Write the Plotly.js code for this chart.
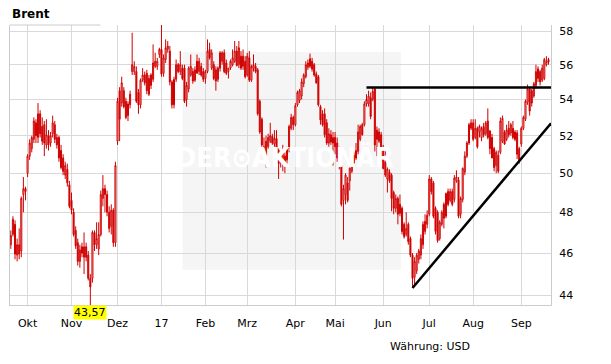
<!DOCTYPE html>
<html>
<head>
<meta charset="utf-8">
<script src="https://cdn.plot.ly/plotly-3.0.1.min.js"></script>
<style>
  html, body { margin: 0; padding: 0; background: #ffffff; }
  #chart { width: 611px; height: 364px; }
</style>
</head>
<body>
<div id="chart"></div>
<script>
// ---- Data (Brent, daily OHLC) ----
const firstDay = '2016-09-21';
const lastDay = '2017-09-20';
const holidays = ['2016-12-26', '2017-01-02', '2017-04-14'];
const monthLabels = ['Okt','Nov','Dez','17','Feb','Mrz','Apr','Mai','Jun','Jul','Aug','Sep'];
const yTicks = [44, 46, 48, 50, 52, 54, 56, 58];

const open = [
46.4,46.9,47.4,45.9,46.4,46.1,48.9,49.2,50.0,50.9,51.3,51.8,52.7,51.9,53.2,52.5,52.6,51.5,52.0,51.6,
52.1,52.6,51.9,51.9,51.2,50.8,49.9,50.2,49.4,48.6,48.0,47.1,46.5,45.6,46.3,45.8,46.3,45.9,44.8,44.8,
47.0,46.4,46.2,46.9,48.7,49.2,48.9,48.0,47.3,48.1,46.5,51.7,54.5,53.8,54.5,53.9,53.1,53.7,55.6,55.6,
55.6,54.4,53.7,55.1,55.4,55.5,55.2,54.8,55.15,55.9,55.9,56.6,56.9,55.5,56.3,56.9,56.8,55.0,53.7,55.15,
56.0,55.6,55.8,55.8,54.0,54.6,55.4,55.6,55.1,56.2,55.6,55.9,55.6,55.2,55.6,56.9,55.8,56.0,55.7,55.15,
55.8,56.2,56.7,56.1,55.6,55.8,56.0,56.2,56.8,56.0,56.5,55.9,56.2,55.4,56.4,55.1,55.8,55.9,55.7,53.9,
52.9,51.4,50.9,51.4,51.7,51.95,51.55,51.85,51.2,50.6,50.7,50.9,50.7,51.3,52.4,53.0,52.6,53.7,53.95,54.2,
54.9,55.3,55.85,55.9,56.2,56.0,55.45,55.3,53.6,53.2,53.2,52.7,51.6,52.05,51.6,51.9,51.6,51.2,50.4,48.6,
48.9,49.5,49.6,50.1,50.95,50.8,51.15,51.8,52.6,52.6,53.75,53.75,54.1,54.0,54.6,52.3,51.7,52.05,51.3,50.6,
49.7,50.05,49.9,49.0,48.2,48.7,48.4,48.2,47.4,46.9,47.4,46.7,45.9,44.85,45.15,45.7,45.9,46.4,47.05,47.4,
47.9,49.7,49.5,48.2,48.0,46.7,47.4,48.4,47.8,49.05,48.6,49.05,48.65,49.6,49.65,47.9,48.65,50.05,50.9,51.6,
52.4,52.7,51.9,52.4,52.2,51.9,52.5,52.1,52.8,52.25,51.9,51.3,50.4,50.95,51.1,51.7,52.2,51.8,52.4,52.15,
52.4,52.2,52.15,51.3,51.55,52.4,52.9,53.85,54.6,54.5,54.2,54.8,55.2,55.6,55.1,55.2,56.0,56.3
];
const high = [
47.1,47.8,47.6,46.7,47.2,48.8,49.8,49.3,51.0,51.8,52.0,53.0,52.9,53.8,53.4,53.0,52.8,52.9,52.3,52.2,
53.1,52.8,52.1,52.0,51.5,51.0,50.6,50.5,49.6,49.0,48.2,47.3,46.7,46.4,46.5,47.0,46.5,46.1,45.0,47.1,
47.1,47.5,47.5,49.1,49.9,49.4,49.1,48.3,48.4,48.2,50.6,54.1,54.7,55.3,54.7,54.1,53.9,54.5,57.9,56.2,
55.9,54.6,55.2,55.8,55.6,55.7,55.4,55.5,57.2,56.7,56.4,57.0,58.37,56.6,57.5,57.4,57.1,55.1,55.3,56.3,
56.1,56.8,56.0,56.0,55.0,55.9,56.6,55.8,55.9,56.6,56.4,56.1,55.8,55.7,57.5,57.3,56.9,56.2,55.9,55.9,
56.8,56.8,56.9,56.3,55.8,56.3,56.9,57.4,57.1,57.4,56.8,56.9,56.5,56.7,56.8,56.0,56.6,56.1,55.8,54.0,
53.0,51.9,52.0,52.1,52.7,52.1,52.3,52.3,51.3,51.0,51.5,51.1,51.4,52.6,53.2,53.1,53.8,54.5,54.6,55.2,
55.5,56.2,56.3,56.65,56.4,56.1,55.6,55.4,53.7,53.4,53.5,52.9,52.4,52.3,52.2,52.2,51.9,51.4,50.6,49.4,
50.0,49.8,50.3,50.95,51.1,51.6,52.6,52.6,52.7,53.9,54.3,54.5,54.4,54.7,54.65,52.5,52.4,52.2,51.5,51.3,
50.3,50.2,50.0,49.1,48.9,48.8,48.9,48.3,47.5,48.0,47.5,46.8,46.0,45.8,46.0,46.2,46.9,47.55,47.9,48.1,
49.9,49.8,49.6,48.3,48.1,47.6,48.1,48.5,49.0,49.2,49.2,49.2,49.9,50.15,49.8,48.8,50.3,51.15,51.7,52.7,
52.9,52.9,52.9,52.5,52.6,52.5,52.7,52.8,53.5,52.3,52.1,51.4,51.2,51.2,53.0,53.1,52.3,52.6,52.8,52.7,
52.8,52.3,52.3,51.4,52.5,53.1,54.0,54.85,54.7,54.6,55.0,56.0,55.9,55.7,56.0,56.4,56.5,56.4
];
const low = [
46.2,46.8,45.7,45.6,45.7,45.8,48.0,48.6,49.8,50.7,51.1,51.6,51.6,51.6,51.9,51.5,50.9,51.3,51.2,51.4,
51.9,51.6,51.3,50.6,50.2,49.9,49.7,49.3,48.2,47.9,46.8,46.2,45.4,45.3,45.8,45.0,45.6,44.7,43.57,44.6,
46.1,46.2,45.9,46.8,48.3,48.0,47.8,47.0,46.9,46.3,46.3,51.5,51.7,53.6,53.5,52.9,52.8,53.5,55.4,55.4,
53.8,53.2,53.5,55.0,54.8,54.3,54.2,54.6,55.0,55.8,55.7,56.4,55.3,55.3,56.1,56.7,54.8,53.5,53.5,55.0,
55.5,55.4,55.1,53.8,53.6,54.4,55.3,54.9,55.0,55.5,55.4,55.3,55.0,54.9,55.5,56.3,55.7,55.1,54.5,55.0,
55.6,56.0,55.5,55.4,55.2,55.7,55.9,56.1,55.9,55.8,55.7,55.7,55.2,55.3,55.0,55.0,55.6,55.5,53.1,52.1,
51.4,51.0,50.3,51.3,51.6,51.5,51.4,50.9,49.7,50.3,50.1,50.0,50.5,51.1,52.3,52.3,52.5,53.6,53.8,54.0,
54.7,55.2,55.7,55.8,55.6,55.3,54.9,53.6,52.6,52.5,51.9,51.5,51.4,51.5,50.4,51.0,50.6,50.2,48.3,46.65,
48.4,48.5,49.1,50.0,50.5,50.7,51.0,51.7,52.0,52.5,53.6,53.6,52.9,53.9,51.15,50.9,51.6,50.6,50.2,49.8,
49.0,49.5,48.05,47.9,48.0,47.4,47.8,46.9,46.7,46.8,46.4,45.8,44.35,44.5,45.0,45.5,45.7,46.2,46.9,47.2,
47.8,48.9,47.7,46.9,46.5,46.6,47.3,47.2,47.7,48.3,48.5,48.3,48.5,49.5,47.7,47.7,48.5,49.9,50.8,51.5,
52.3,51.7,51.8,51.3,51.9,51.7,51.9,52.0,51.8,51.0,50.8,50.1,50.0,50.0,51.0,51.6,51.5,51.7,51.9,52.0,
51.8,51.7,50.75,50.5,51.4,52.3,52.8,53.7,53.1,53.6,54.1,54.6,55.0,54.8,55.0,55.1,55.9,56.0
];
const close = [
46.85,47.65,45.95,46.4,45.95,48.7,49.2,49.05,50.9,51.6,51.9,52.8,52.0,53.2,52.1,51.7,51.6,52.05,51.5,52.0,
52.7,51.8,51.5,50.8,50.3,50.1,50.4,49.5,48.3,48.1,46.9,46.35,45.6,46.15,46.0,46.3,45.8,44.8,44.4,47.0,
46.4,46.7,46.9,48.9,49.2,48.9,48.0,47.2,48.1,46.5,50.4,53.9,52.9,54.95,53.6,53.0,53.75,54.3,56.0,55.9,
53.9,53.7,55.1,55.4,54.95,54.5,54.3,55.4,56.1,56.2,56.2,56.9,55.45,56.4,57.0,57.1,55.0,53.7,55.15,56.0,
55.6,56.0,55.2,53.9,54.8,55.8,55.9,55.05,55.7,55.5,56.2,55.4,55.15,55.6,56.8,56.4,56.7,55.2,55.05,55.8,
56.7,56.7,55.6,55.5,55.8,56.2,56.4,56.8,55.95,57.0,55.8,56.5,55.3,56.5,55.1,55.9,56.0,55.6,53.2,52.2,
51.5,51.2,51.7,51.9,52.0,51.6,51.85,51.05,50.5,50.85,51.1,50.6,51.3,52.5,53.0,52.6,53.65,54.4,54.5,55.0,
55.4,56.0,56.1,56.35,55.75,55.4,54.95,53.7,52.85,52.6,52.05,51.6,52.1,51.65,51.9,51.4,50.8,50.4,48.4,49.2,
49.9,48.6,50.25,50.8,50.55,51.2,52.2,52.5,52.05,53.75,54.0,54.2,53.05,54.45,51.5,51.8,52.2,50.9,50.25,49.9,
50.2,49.6,48.7,48.2,48.7,47.9,47.95,47.05,46.8,47.2,46.55,45.9,44.8,45.6,45.9,46.1,46.7,47.4,47.55,47.85,
49.7,49.05,47.8,47.05,46.6,47.5,48.0,47.7,48.95,48.4,49.05,48.4,49.75,49.8,47.8,48.7,50.25,50.9,51.6,52.6,
52.7,51.8,52.4,51.4,52.5,52.4,52.05,52.7,51.9,51.3,50.8,50.3,51.1,50.1,52.8,52.95,51.55,52.3,52.05,52.6,
51.9,51.8,51.0,50.65,52.4,53.0,53.9,54.6,53.35,53.8,54.9,55.6,55.75,55.0,55.8,56.3,56.2,56.15
];

// Hand-drawn chart lines (levels)
const resistanceLevel = 54.68;
const resistanceStart = '2017-05-22';
const supportStart = { date: '2017-06-21', value: 44.35 };
const supportEndValue = 52.68;   // value where the support line meets the right edge

// Watermark label anchor (trading day / price level of its centre)
const watermarkAt = { date: '2017-03-27', value: 50.7 };

// ---- Build the trading-day calendar (weekdays without holidays) ----
const dates = [];
{
  const d = new Date(firstDay + 'T00:00:00Z');
  const end = new Date(lastDay + 'T00:00:00Z');
  while (d <= end) {
    const wd = d.getUTCDay();
    const s = d.toISOString().slice(0, 10);
    if (wd !== 0 && wd !== 6 && holidays.indexOf(s) < 0) dates.push(s);
    d.setUTCDate(d.getUTCDate() + 1);
  }
}
const xIdx = dates.map((_, i) => i);
const tickIdx = [];
for (let i = 1; i < dates.length; i++) {
  if (dates[i].slice(5, 7) !== dates[i - 1].slice(5, 7)) tickIdx.push(i);
}

const RED = '#d00000';
const xRange = [-0.4, dates.length + 0.2];

let minLow = Infinity, minIdx = 0;
low.forEach((v, i) => { if (v < minLow) { minLow = v; minIdx = i; } });

const watermark = {
  type: 'scatter', mode: 'text',
  x: [dates.indexOf(watermarkAt.date)], y: [watermarkAt.value],
  text: ['<b>DER⊙AKTIONÄR</b>'],
  textfont: { family: 'DejaVu Sans Condensed, DejaVu Sans, sans-serif', size: 27, color: '#ffffff' },
  textposition: 'middle center',
  hoverinfo: 'skip', showlegend: false, cliponaxis: false
};

const candles = {
  type: 'candlestick',
  x: xIdx, open: open, high: high, low: low, close: close,
  increasing: { line: { color: RED, width: 1 }, fillcolor: '#ffffff' },
  decreasing: { line: { color: RED, width: 1 }, fillcolor: RED },
  whiskerwidth: 0,
  hoverinfo: 'skip',
  showlegend: false
};

const resistance = {
  type: 'scatter', mode: 'lines',
  x: [dates.indexOf(resistanceStart), xRange[1]],
  y: [resistanceLevel, resistanceLevel],
  line: { color: '#000000', width: 2.5 },
  hoverinfo: 'skip', showlegend: false
};
const support = {
  type: 'scatter', mode: 'lines',
  x: [dates.indexOf(supportStart.date), xRange[1]],
  y: [supportStart.value, supportEndValue],
  line: { color: '#000000', width: 2.5 },
  hoverinfo: 'skip', showlegend: false
};

const FONT = 'DejaVu Sans, Verdana, sans-serif';
const GRID = '#d9d9d9';

const layout = {
  width: 611, height: 364,
  margin: { l: 10, r: 60, t: 25, b: 59 },
  paper_bgcolor: '#ffffff', plot_bgcolor: '#ffffff',
  font: { family: FONT, size: 11, color: '#000000' },
  title: {
    text: '<b>Brent</b>', font: { family: FONT, size: 12, color: '#000000' },
    xref: 'container', yref: 'container', x: 12 / 611, xanchor: 'left',
    y: 1 - 14 / 364, yanchor: 'middle'
  },
  xaxis: {
    type: 'linear', range: xRange,
    tickvals: tickIdx, ticktext: monthLabels,
    showgrid: true, gridcolor: GRID, gridwidth: 1,
    showline: true, linecolor: '#cccccc', linewidth: 1,
    zeroline: false, ticks: '', ticklabelstandoff: 8,
    tickfont: { family: FONT, size: 11, color: '#000000' },
    rangeslider: { visible: false }, fixedrange: true
  },
  yaxis: {
    type: 'log', range: [Math.log10(43.57), Math.log10(58.37)],
    side: 'right', tickvals: yTicks, ticktext: yTicks.map(String),
    showgrid: true, gridcolor: GRID, gridwidth: 1,
    showline: true, linecolor: '#cccccc', linewidth: 1, mirror: true,
    zeroline: false, ticks: '', ticklabelstandoff: 5,
    tickfont: { family: FONT, size: 11, color: '#000000' },
    fixedrange: true
  },
  shapes: [
    { type: 'rect', layer: 'below', xref: 'paper', yref: 'paper',
      x0: 0.319, x1: 0.7225, y0: 0.126, y1: 0.904,
      fillcolor: '#f5f5f5', line: { width: 0 } },
    { type: 'line', xref: 'paper', yref: 'paper', x0: 0, x1: 0.167, y0: 1, y1: 1,
      line: { color: '#cccccc', width: 1 } }
  ],
  annotations: [
    { text: minLow.toFixed(2).replace('.', ','), xref: 'x', yref: 'paper',
      x: minIdx, y: 0, xanchor: 'center', yanchor: 'top', showarrow: false,
      bgcolor: '#ffff00', borderpad: 0, font: { family: FONT, size: 11, color: '#000000' } },
    { text: 'Währung: USD', xref: 'paper', yref: 'paper', x: 0.698, y: -0.148,
      xanchor: 'left', yanchor: 'middle', showarrow: false,
      font: { family: FONT, size: 11, color: '#000000' } }
  ]
};

Plotly.newPlot('chart', [watermark, candles, resistance, support], layout, { displayModeBar: false, staticPlot: true });
</script>
</body>
</html>
